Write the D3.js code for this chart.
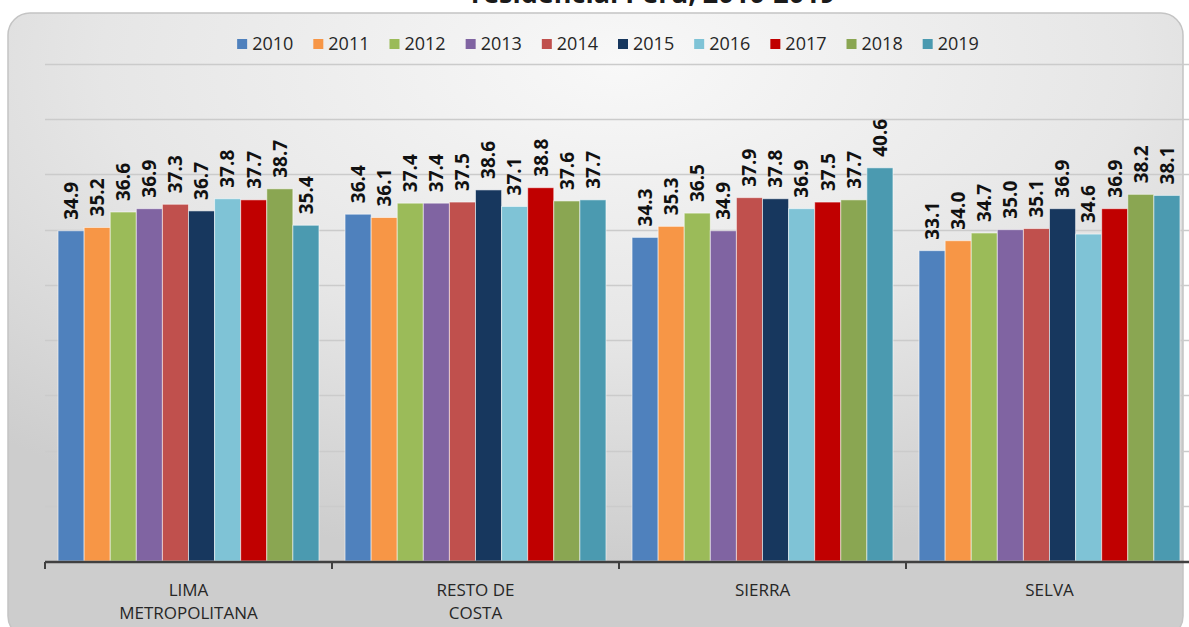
<!DOCTYPE html>
<html>
<head>
<meta charset="utf-8">
<script src="https://cdn.jsdelivr.net/npm/d3@7"></script>
<style>
  body { margin: 0; background: #fff; }
  svg { display: block; font-family: "Open Sans", sans-serif; }
</style>
</head>
<body>
<div id="chart"></div>
<script>
// data
var regions = ["LIMA METROPOLITANA", "RESTO DE COSTA", "SIERRA", "SELVA"];
var regionLines = [["LIMA", "METROPOLITANA"], ["RESTO DE", "COSTA"], ["SIERRA"], ["SELVA"]];
var years = ["2010", "2011", "2012", "2013", "2014", "2015", "2016", "2017", "2018", "2019"];
var lima = [34.9, 35.2, 36.6, 36.9, 37.3, 36.7, 37.8, 37.7, 38.7, 35.4];
var restoCosta = [36.4, 36.1, 37.4, 37.4, 37.5, 38.6, 37.1, 38.8, 37.6, 37.7];
var sierra = [34.3, 35.3, 36.5, 34.9, 37.9, 37.8, 36.9, 37.5, 37.7, 40.6];
var selva = [33.1, 34.0, 34.7, 35.0, 35.1, 36.9, 34.6, 36.9, 38.2, 38.1];
var gridValues = [10, 15, 20, 25, 30, 35, 40, 45, 50];
var colors = ["#4f81bd", "#f79646", "#9bbb59", "#8064a2", "#c0504d",
              "#17375e", "#7fc3d6", "#c00000", "#8aa652", "#4b9ab0"];

var series = [lima, restoCosta, sierra, selva];

var width = 1189, height = 627;

var svg = d3.select("#chart").append("svg")
  .attr("width", width)
  .attr("height", height);

// background panel
var defs = svg.append("defs");
var grad = defs.append("radialGradient")
  .attr("id", "bg")
  .attr("cx", "52%").attr("cy", "8%")
  .attr("r", "80%");
grad.append("stop").attr("offset", "0%").attr("stop-color", "#f8f8f8");
grad.append("stop").attr("offset", "55%").attr("stop-color", "#e6e6e6");
grad.append("stop").attr("offset", "100%").attr("stop-color", "#cdcdcd");

svg.append("rect")
  .attr("x", 8).attr("y", 13)
  .attr("width", 1175).attr("height", 625)
  .attr("rx", 22).attr("ry", 22)
  .attr("fill", "url(#bg)")
  .attr("stroke", "#c4c4c4")
  .attr("stroke-width", 1.5);

// title (cut off at the top in the original)
svg.append("text")
  .attr("x", 653)
  .attr("y", 3)
  .attr("text-anchor", "middle")
  .style("font-size", "27px")
  .style("font-weight", "bold")
  .attr("fill", "#1a1a1a")
  .text("residencial Perú, 2010-2019");

// scales
var x0 = d3.scaleBand()
  .domain(regions)
  .range([45, 1193])
  .paddingInner(0)
  .paddingOuter(0);

var x1 = d3.scaleBand()
  .domain(years)
  .range([0, x0.bandwidth()])
  .paddingInner(0)
  .paddingOuter(0.5);

var y = d3.scaleLinear()
  .domain([5, 50])
  .range([561, 64]);

// gridlines
svg.append("g")
  .attr("class", "grid")
  .selectAll("line")
  .data(gridValues)
  .enter()
  .append("line")
  .attr("x1", 45).attr("x2", width)
  .attr("y1", function(d) { return Math.round(y(d)) + 0.5; })
  .attr("y2", function(d) { return Math.round(y(d)) + 0.5; })
  .attr("stroke", "#cbcbcb")
  .attr("stroke-width", 1.5);

// bars
var groups = svg.append("g")
  .selectAll("g")
  .data(regions)
  .enter()
  .append("g")
  .attr("transform", function(d) { return "translate(" + x0(d) + ",0)"; });

groups.selectAll("rect")
  .data(function(d, i) { return series[i].map(function(v, j) { return { year: years[j], value: v, idx: j }; }); })
  .enter()
  .append("rect")
  .attr("x", function(d) { return x1(d.year); })
  .attr("y", function(d) { return y(d.value); })
  .attr("width", x1.bandwidth())
  .attr("height", function(d) { return y(5) - y(d.value); })
  .attr("fill", function(d) { return colors[d.idx]; })
  .attr("stroke", "rgba(255,255,255,0.55)")
  .attr("stroke-width", 1);

// value labels
groups.selectAll("text")
  .data(function(d, i) { return series[i].map(function(v, j) { return { year: years[j], value: v }; }); })
  .enter()
  .append("text")
  .attr("transform", function(d) {
    return "translate(" + (x1(d.year) + x1.bandwidth() / 2) + "," + (y(d.value) - 11) + ") rotate(-90)";
  })
  .attr("dy", "0.36em")
  .attr("text-anchor", "start")
  .style("font-size", "19px")
  .style("font-weight", "bold")
  .attr("fill", "#111")
  .text(function(d) { return d.value.toFixed(1); });

// x axis
var xAxis = svg.append("g").attr("class", "x-axis");
xAxis.append("line")
  .attr("x1", 45).attr("x2", width)
  .attr("y1", 562).attr("y2", 562)
  .attr("stroke", "#404040")
  .attr("stroke-width", 2.5);

var tickXs = regions.map(function(d) { return x0(d); });
xAxis.selectAll(".tick")
  .data(tickXs)
  .enter()
  .append("line")
  .attr("class", "tick")
  .attr("x1", function(d) { return d; })
  .attr("x2", function(d) { return d; })
  .attr("y1", 562).attr("y2", 569)
  .attr("stroke", "#404040")
  .attr("stroke-width", 2);

var catLabels = xAxis.selectAll(".cat")
  .data(regions)
  .enter()
  .append("text")
  .attr("class", "cat")
  .attr("x", function(d) { return x0(d) + x0.bandwidth() / 2; })
  .attr("y", 596)
  .attr("text-anchor", "middle")
  .style("font-size", "17px")
  .attr("fill", "#262626");

catLabels.each(function(d, i) {
  var t = d3.select(this);
  regionLines[i].forEach(function(line, k) {
    t.append("tspan")
      .attr("x", x0(d) + x0.bandwidth() / 2)
      .attr("dy", k === 0 ? 0 : 23)
      .text(line);
  });
});

// legend
var legend = svg.append("g").attr("id", "legend");
var items = legend.selectAll("g")
  .data(years)
  .enter()
  .append("g");

items.append("rect")
  .attr("width", 10).attr("height", 10)
  .attr("y", -5)
  .attr("fill", function(d, i) { return colors[i]; });

items.append("text")
  .attr("x", 15)
  .attr("dy", "0.35em")
  .style("font-size", "18px")
  .attr("fill", "#262626")
  .text(function(d) { return d; });

var cursor = 0;
items.each(function() {
  var g = d3.select(this);
  var w = 15 + g.select("text").node().getComputedTextLength();
  g.attr("transform", "translate(" + cursor + ",0)");
  cursor += w + 20;
});
var legendWidth = cursor - 20;
legend.attr("transform", "translate(" + (608 - legendWidth / 2) + ",44)");
</script>
</body>
</html>
